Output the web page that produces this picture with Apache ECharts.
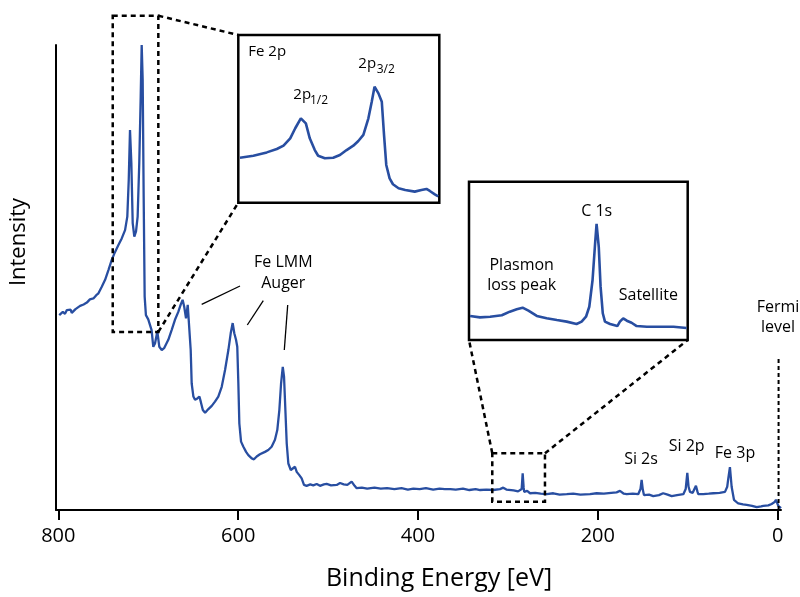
<!DOCTYPE html>
<html><head><meta charset="utf-8">
<script src="https://cdn.jsdelivr.net/npm/echarts@6/dist/echarts.min.js"></script>
<style>html,body{margin:0;padding:0;background:#fff}#c{width:800px;height:597px}</style>
</head><body><div id="c"></div>
<script>
// ---- data ----
const surveyEnergy = [799,795,792.6,790.5,788.9,786.4,785.1,780.9,775.8,771.9,768.3,764.9,761.0,757.8,755.4,751.7,748.0,744.3,740.6,736.9,733.2,729.5,725.8,723.3,721.7,720.3,718.8,717.3,715.5,713.6,711.8,710.0,708.4,707.3,706.2,705.1,704.0,702.6,700.0,698.1,696.3,694.4,692.5,689.9,687.7,685.0,682.4,677.7,674.0,670.3,666.6,664.0,661.8,660.0,658.0,656.1,654.7,652.8,651.7,649.8,648.0,645.4,643.1,641.6,639.3,636.8,633.1,629.4,625.8,622.1,618.3,614.6,610.9,608.3,606.1,604.3,602.4,601.0,599.8,598.7,596.8,594.2,591.2,588.7,584.9,582.4,579.4,575.8,570.2,566.5,562.8,559.1,556.5,554.2,552.3,550.4,549.0,547.5,546.0,544.2,541.5,539.3,536.8,534.9,532.0,529.4,526.8,523.9,519.8,516.5,512.7,509.0,504.7,501.6,496.7,490.4,486.7,482.6,478.6,473.8,470.5,468.2,462.5,456.5,448.4,441.4,434.4,426.3,418.3,411.3,405.2,398.2,391.2,383.1,376.1,370.1,368.1,364.0,358.0,350.0,342.9,335.9,330.9,323.9,316.3,308.8,305.2,301.7,299.6,293.7,288.7,286.6,284.7,283.6,282.5,281.9,278.6,275.4,269.6,263.6,256.9,249.5,242.5,234.6,227.4,219.4,208.7,201.3,193.3,185.2,179.2,175.4,171.1,167.9,161.1,155.1,152.6,151.3,150.0,148.7,143.0,138.4,132.0,127.4,125.3,122.4,117.9,111.9,104.9,102.3,100.5,99.1,97.5,94.5,90.9,89.3,88.3,82.7,76.7,71.6,64.6,58.6,56.1,54.9,53.1,51.2,48.6,43.9,38.5,34.5,28.5,23.3,18.4,16.0,10.4,6.7,3.4,1.9,-0.7,-2.2,-3.7];
const surveyIntensity = [41.9,42.6,42.2,43.0,42.6,43.1,42.4,43.2,43.9,44.2,44.6,45.3,45.5,46.2,46.6,48.0,49.5,51.6,53.8,55.5,57.0,58.4,60.2,63.1,71.0,81.7,74.6,61.7,58.8,59.9,63.1,74.6,88.9,100,92.5,67.4,45.9,41.9,41.0,41.4,38.7,35.1,35.8,38.4,35.1,34.4,34.8,36.6,38.7,40.9,42.6,44.1,45.2,43.7,41.2,44.1,43.7,34.4,27.2,24.4,23.7,24.0,24.4,23.3,21.5,20.9,21.7,22.4,23.3,24.4,26.5,30.1,34.4,38.0,40.2,38.0,36.6,35.1,27.2,18.6,14.7,13.6,12.5,11.8,11.1,10.9,11.5,12.0,12.5,12.9,13.6,15.1,17.2,21.5,27.2,30.8,28.7,21.5,14.3,10.0,8.6,9.0,9.3,8.2,7.5,6.8,5.4,5.2,5.5,5.3,5.6,5.2,5.5,5.6,5.3,5.4,5.8,5.5,5.4,6.1,5.2,4.7,4.8,4.6,4.8,4.6,4.7,4.5,4.7,4.4,4.6,4.5,4.7,4.4,4.6,4.5,4.9,4.5,4.4,4.6,4.3,4.5,4.3,4.4,4.3,4.5,4.8,4.4,4.1,4.2,4.0,3.9,4.5,7.9,4.8,3.9,4.1,3.6,3.7,3.5,3.4,3.6,3.3,3.4,3.5,3.3,3.4,3.6,3.5,3.7,3.8,4.1,3.5,3.4,3.5,3.4,4.5,6.5,4.4,3.2,3.3,3.0,3.2,3.6,3.9,3.3,3.0,3.2,3.4,4.5,8.0,5.0,3.9,3.7,5.2,4.0,3.4,3.4,3.5,3.6,3.7,3.9,5.0,6.8,9.2,5.0,2.2,1.4,1.2,1.1,0.9,0.6,0.8,0.9,1.0,1.3,1.7,2.2,0.9,0.6,0.4];

const fe2pEnergy = [730.7,728.3,725.9,724.1,722.9,721.7,720.8,719.8,718.9,718.2,717.3,716.7,715.5,714.0,712.8,711.6,710.4,709.5,708.6,707.7,707.1,706.6,705.9,705.3,704.9,704.5,703.9,703.3,702.3,701.1,699.4,698.2,697.3,696.7,695.8,695.2];
const fe2pIntensity = [26.8,28.0,30.0,32.0,34.0,38.4,44.4,50.3,47.3,38.4,31.4,28.0,26.5,26.8,28.4,31.4,34.0,36.8,40.4,50.3,60.2,69.2,65.2,60.2,40.4,22.5,14.5,11.0,8.6,7.6,6.6,7.6,8.2,7.0,5.0,3.8];

const c1sEnergy = [319.7,317.0,314.2,311.0,308.8,306.9,305.3,303.7,301.4,298.7,295.9,293.2,290.5,289.1,287.9,287.0,286.1,285.4,285.0,284.4,283.9,283.3,282.7,281.3,279.3,278.6,277.7,276.7,275.4,274.0,271.2,267.6,263.9,260.3];
const c1sIntensity = [15.2,14.3,14.7,15.6,17.9,19.4,20.4,18.5,15.2,13.7,12.6,11.6,10.1,11.6,14.7,21.0,37.9,61.1,73.3,58.9,33.7,16.9,11.6,10.1,8.8,11.6,13.7,12.2,10.9,8.8,8.4,8.4,8.4,7.6];

const xTickValues = [0, 200, 400, 600, 800];
const fe2pWindow = [739.5, 688.8, 38.3, 106.3];   // eV max, eV min, intensity low, high
const c1sWindow  = [317.4, 258.8, 1.8, 12.2];
const fe2pInsetRange = [695, 731];
const c1sInsetRange = [260, 320];
const fermiLevel = [-1, 0, 32.9];                 // eV, intensity from, to

// ---- chart ----
const FONT = 'Open Sans';
const BLUE = '#284ea1';
const chart = echarts.init(document.getElementById('c'), null, {renderer: 'canvas'});
const zip = (a, b) => a.map((v, i) => [v, b[i]]);

chart.setOption({
  animation: false,
  backgroundColor: '#fff',
  grid: [
    {left: 56, right: 19, top: 45, bottom: 87, show: false},
    {left: 238.3, top: 35, width: 201, height: 167.7, show: true, borderColor: '#000', borderWidth: 2.5, backgroundColor: '#fff', z: 5},
    {left: 469, top: 181.7, width: 218.7, height: 158.3, show: true, borderColor: '#000', borderWidth: 2.5, backgroundColor: '#fff', z: 5}
  ],
  xAxis: [
    {gridIndex: 0, type: 'value', min: -3.7, max: 802.6, inverse: true,
     axisLine: {show: true, onZero: false, lineStyle: {color: '#000', width: 2}},
     axisTick: {show: true, customValues: xTickValues, length: 10, lineStyle: {color: '#000', width: 2}},
     axisLabel: {customValues: xTickValues, fontFamily: FONT, fontSize: 20, color: '#000', margin: 16},
     splitLine: {show: false}},
    {gridIndex: 1, type: 'value', min: fe2pInsetRange[0], max: fe2pInsetRange[1], inverse: true, show: false, splitLine: {show: false}},
    {gridIndex: 2, type: 'value', min: c1sInsetRange[0], max: c1sInsetRange[1], inverse: true, show: false, splitLine: {show: false}}
  ],
  yAxis: [
    {gridIndex: 0, type: 'value', min: 0, max: 100,
     axisLine: {show: true, onZero: false, lineStyle: {color: '#000', width: 2}},
     axisTick: {show: false}, axisLabel: {show: false}, splitLine: {show: false}},
    {gridIndex: 1, type: 'value', min: 0, max: 100, show: false, splitLine: {show: false}},
    {gridIndex: 2, type: 'value', min: 0, max: 100, show: false, splitLine: {show: false}}
  ],
  series: [
    {type: 'line', xAxisIndex: 0, yAxisIndex: 0, data: zip(surveyEnergy, surveyIntensity), showSymbol: false, lineStyle: {color: BLUE, width: 2.3}, z: 3},
    {type: 'line', xAxisIndex: 1, yAxisIndex: 1, data: zip(fe2pEnergy, fe2pIntensity), showSymbol: false, lineStyle: {color: BLUE, width: 2.6}, z: 6},
    {type: 'line', xAxisIndex: 2, yAxisIndex: 2, data: zip(c1sEnergy, c1sIntensity), showSymbol: false, lineStyle: {color: BLUE, width: 2.6}, z: 6}
  ]
});

const P = (g, x, y) => chart.convertToPixel({gridIndex: g}, [x, y]);
const dash = {stroke: '#000', lineWidth: 2.5, lineDash: [5, 4], fill: null};
const g = [];
function dline(a, b, style) { g.push({type: 'line', shape: {x1: a[0], y1: a[1], x2: b[0], y2: b[1]}, style: Object.assign({}, style || dash), z: 10}); }
function drect(w) {
  const tl = P(0, w[0], w[3]), br = P(0, w[1], w[2]);
  g.push({type: 'rect', shape: {x: tl[0], y: tl[1], width: br[0] - tl[0], height: br[1] - tl[1]}, style: Object.assign({}, dash), z: 10});
}
// Fe 2p window
drect(fe2pWindow);
dline(P(0, fe2pWindow[1], fe2pWindow[3]), P(1, fe2pInsetRange[1], 100));
dline(P(0, fe2pWindow[1], fe2pWindow[2]), P(1, fe2pInsetRange[1], 0));
// C 1s window
drect(c1sWindow);
dline(P(0, c1sWindow[0], c1sWindow[3]), P(2, c1sInsetRange[1], 0));
dline(P(0, c1sWindow[1], c1sWindow[3]), P(2, c1sInsetRange[0], 0));
// Fermi level
dline(P(0, fermiLevel[0], fermiLevel[1]), P(0, fermiLevel[0], fermiLevel[2]), {stroke: '#000', lineWidth: 2, lineDash: [4, 3]});
// Auger leader lines
const thin = {stroke: '#000', lineWidth: 1.3};
dline([201.7, 304.3], [240, 286], thin);
dline([247.3, 325], [263.3, 300.7], thin);
dline([284.3, 350], [287.7, 305], thin);

function txt(t, x, y, size, align) {
  g.push({type: 'text', x: x, y: y, z: 12, style: {text: t, x: 0, y: 0, fontFamily: FONT, fontSize: size, fill: '#000', textAlign: align || 'center', textVerticalAlign: 'middle'}});
}
txt('Fe LMM', 283.3, 262.7, 16);
txt('Auger', 283.3, 283.3, 16);
txt('C 1s', 596.7, 211.7, 16);
txt('Plasmon', 521.7, 265, 16);
txt('loss peak', 521.7, 285, 16);
txt('Satellite', 648.3, 295, 16);
txt('Si 2s', 641, 459.3, 16);
txt('Si 2p', 686.7, 446, 16);
txt('Fe 3p', 735, 453.3, 16);
txt('Fermi', 778, 307, 16);
txt('level', 778, 327, 16);
txt('Fe 2p', 248.3, 52, 15, 'left');
txt('2p', 293.3, 94.5, 15, 'left');
txt('1/2', 310, 101, 12, 'left');
txt('2p', 358.3, 63.5, 15, 'left');
txt('3/2', 376.7, 70, 12, 'left');
txt('Binding Energy [eV]', 439, 579, 25);
g.push({type: 'text', x: 19, y: 242, rotation: Math.PI / 2, z: 12, style: {text: 'Intensity', x: 0, y: 0, fontFamily: FONT, fontSize: 22, fill: '#000', textAlign: 'center', textVerticalAlign: 'middle'}});

chart.setOption({graphic: g});
</script></body></html>
